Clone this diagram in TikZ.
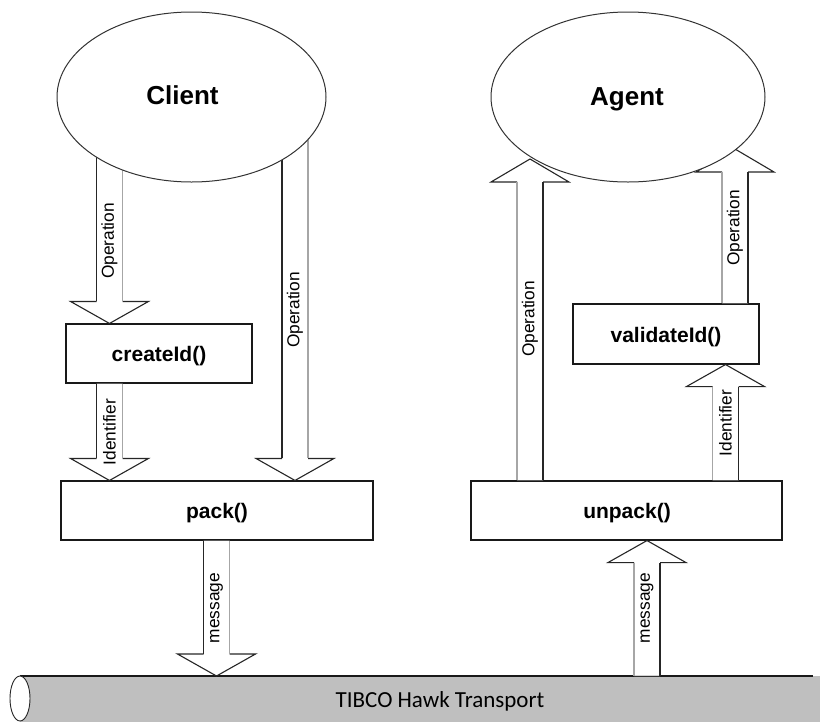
\documentclass[tikz,border=0pt]{standalone}
\usepackage{fontspec}
\setmainfont{Liberation Sans}
\newfontfamily\calib{Carlito}
\usetikzlibrary{shapes.geometric,calc}
\pgfdeclarelayer{front}
\pgfsetlayers{main,front}
\tikzset{
  dk/.style={draw=black!85},
  lt/.style={draw=black!35},
  arrline/.style={line width=1.1pt, line join=miter},
  boxnode/.style={draw=black!90, line width=1.1pt, rectangle, inner sep=0pt},
  boxtext/.style={inner sep=0pt, text height=15pt, text depth=0pt,
    font=\bfseries\fontsize{21}{24}\selectfont},
  ellnode/.style={draw=black!80, line width=1pt, ellipse, fill=white, inner sep=0pt,
    minimum height=170pt},
  elltext/.style={font=\bfseries\fontsize{26}{28}\selectfont, inner sep=0pt,
    text height=18.6pt, text depth=0pt},
  arrlabel/.style={rotate=90, inner sep=0pt, font=\fontsize{17.3}{19}\selectfont},
}
% #1 x coordinate, #2 tail, #3 tip, #4 head offset, #5 left style, #6 right style,
% #7 label, #8 label y, #9 label node name
\newcommand\blockarrow[9]{%
  \coordinate (tip) at (#1 |- #3);
  \coordinate (tl) at (#1 |- #2);
  \coordinate (hb) at ($(tip)+(0,#4)$);
  \fill[white, fill opacity=.8] ($(tl)+(-13,0)$) -- ($(hb)+(-13,0)$) -- ($(hb)+(-39,0)$)
    -- (tip) -- ($(hb)+(39,0)$) -- ($(hb)+(13,0)$) -- ($(tl)+(13,0)$) -- cycle;
  \draw[arrline, black!85] ($(hb)+(-13,0)$) -- ($(hb)+(-39,0)$) -- (tip)
    -- ($(hb)+(39,0)$) -- ($(hb)+(13,0)$);
  \draw[arrline, #5] ($(tl)+(-13,0)$) -- ($(hb)+(-13,0)$);
  \draw[arrline, #6] ($(tl)+(13,0)$) -- ($(hb)+(13,0)$);
  \node[arrlabel] (#9) at (#1 |- 0,#8) {#7};
}
\begin{document}
\begin{tikzpicture}[x=1pt,y=-1pt]
\useasboundingbox (0,0) rectangle (820,721);
\clip (0,0) rectangle (820,721);

% transport pipe
\fill[black!25] (20,676) rectangle (830,730);
\draw[line width=1.1pt, black!90] (20,676) -- (813,676);
\draw[line width=0.9pt, black!85, fill=white] (20,698.5) ellipse [x radius=10, y radius=22.5];
\coordinate (ttop) at (0,676);
\node[font=\calib\fontsize{23}{26}\selectfont, inner sep=0pt] (transport) at (440,701) {TIBCO Hawk Transport};

% boxes
\node[boxnode, minimum width=186pt, minimum height=59pt] (createId) at (159,353.5) {};
\node[boxtext] (createIdtext) at (159,354) {createId()};
\node[boxnode, minimum width=312pt, minimum height=59pt] (pack) at (217,510.5) {};
\node[boxtext] (packtext) at (217,511) {pack()};
\node[boxnode, minimum width=311pt, minimum height=59pt] (unpack) at (626.5,510.5) {};
\node[boxtext] (unpacktext) at (627,511) {unpack()};
\node[boxnode, minimum width=186pt, minimum height=60pt] (validateId) at (666,334) {};
\node[boxtext] (validateIdtext) at (666,334.5) {validateId()};

% ellipses (front layer)
\begin{pgfonlayer}{front}
\node[ellnode, minimum width=269pt] (client) at (191.5,97) {};
\node[elltext] (clienttext) at (182.5,95.5) {Client};
\node[ellnode, minimum width=274pt] (agent) at (628,97) {};
\node[elltext] (agenttext) at (627,96) {Agent};
\end{pgfonlayer}

% arrow positions
\coordinate (ax1) at (109.5,0);
\coordinate (ax2) at (109.5,0);
\coordinate (ax3) at (295,0);
\coordinate (ax4) at (216.5,0);
\coordinate (ax5) at (647,0);
\coordinate (ax6) at (530,0);
\coordinate (ax7) at (735,0);
\coordinate (ax8) at (725.5,0);
\coordinate (atip6) at (0,159);
\coordinate (atip7) at (0,149);

\blockarrow{ax1}{client.center}{createId.north}{-22}{dk}{lt}{Operation}{241}{lab1}
\blockarrow{ax2}{createId.south}{pack.north}{-22}{dk}{lt}{Identifier}{432}{lab2}
\blockarrow{ax3}{client.center}{pack.north}{-22}{dk}{lt}{Operation}{310}{lab3}
\blockarrow{ax4}{pack.south}{ttop}{-22}{dk}{lt}{message}{608}{lab4}
\blockarrow{ax5}{ttop}{unpack.south}{22}{lt}{dk}{message}{608}{lab5}
\blockarrow{ax6}{unpack.north}{atip6}{23}{lt}{dk}{Operation}{319}{lab6}
\blockarrow{ax7}{validateId.north}{atip7}{23}{lt}{dk}{Operation}{228}{lab7}
\blockarrow{ax8}{unpack.north}{validateId.south}{22}{lt}{dk}{Identifier}{423}{lab8}
\end{tikzpicture}
\end{document}
